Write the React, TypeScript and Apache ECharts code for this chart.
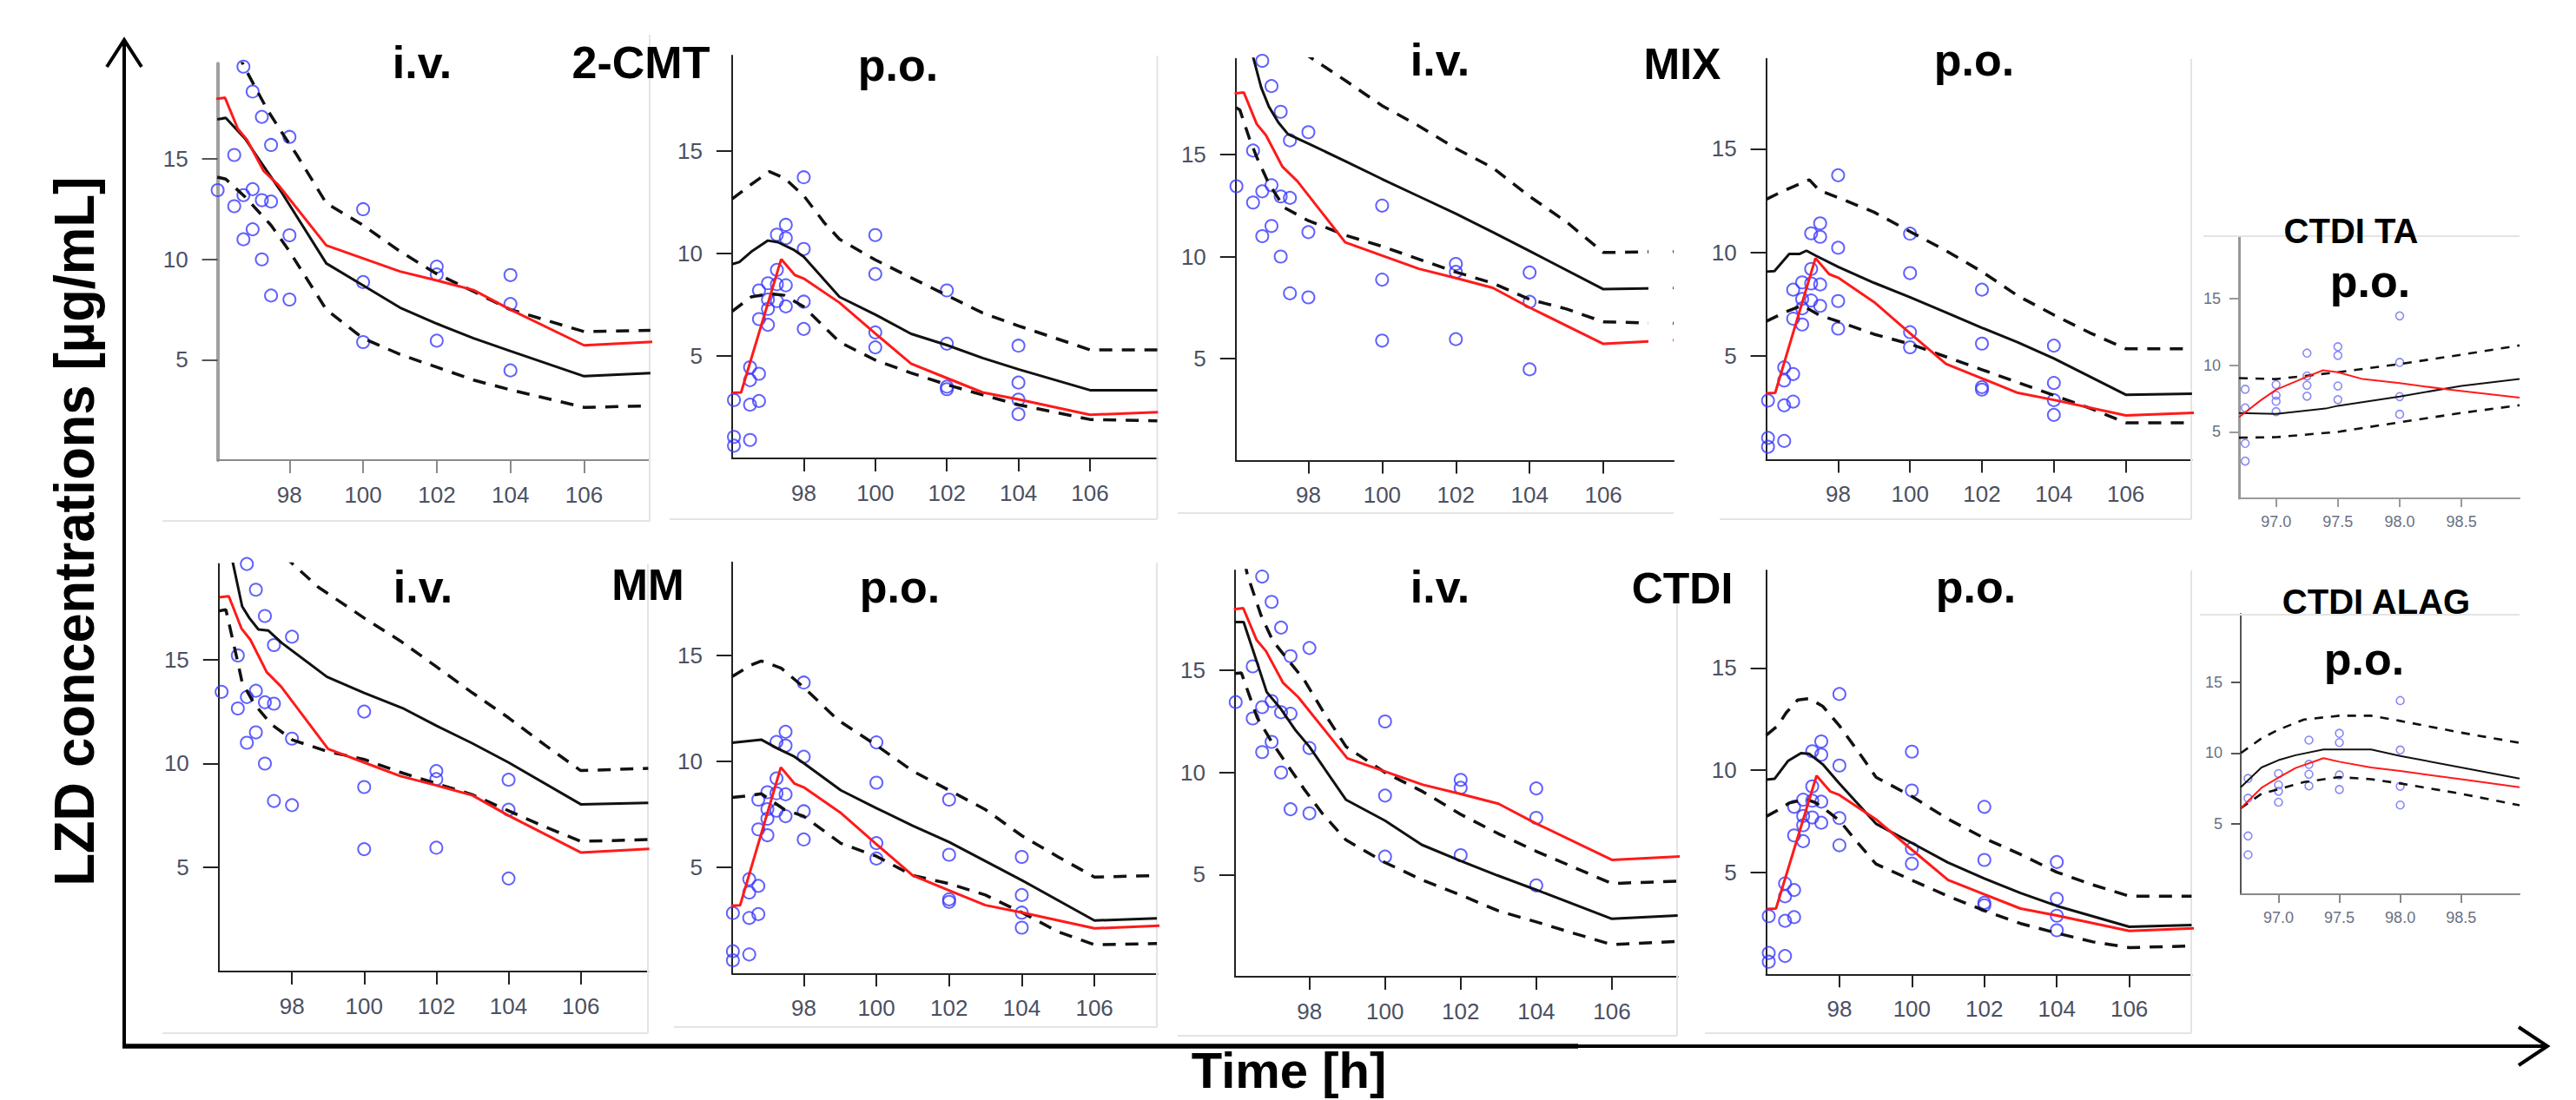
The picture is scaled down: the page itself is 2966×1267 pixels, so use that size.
import React, { useEffect, useRef } from "react";
import * as echarts from "echarts";

// ---------------- DATA ----------------
const mainXTicks = [98, 100, 102, 104, 106];
const mainYTicks = [5, 10, 15];
const insetXTicks = [97, 97.5, 98, 98.5];
const insetYTicks = [5, 10, 15];

const ivObserved = [
  [96.05, 13.45], [96.5, 15.2], [96.5, 12.65], [96.75, 19.6], [96.75, 13.2], [96.75, 11.0],
  [97.0, 18.36], [97.0, 13.5], [97.0, 11.5], [97.25, 17.1], [97.25, 12.95], [97.25, 10.0],
  [97.5, 15.7], [97.5, 12.88], [97.5, 8.2], [98.0, 16.1], [98.0, 11.2], [98.0, 8.0],
  [100, 12.5], [100, 8.87], [100, 5.88], [102, 9.64], [102, 9.25], [102, 5.95],
  [104, 9.22], [104, 7.78], [104, 4.47],
];
const poObserved = [
  [96.05, 2.85], [96.05, 1.05], [96.05, 0.62],
  [96.5, 4.45], [96.5, 3.82], [96.5, 2.62], [96.5, 0.9],
  [96.75, 8.2], [96.75, 6.8], [96.75, 4.13], [96.75, 2.8],
  [97.0, 8.55], [97.0, 7.75], [97.0, 7.3], [97.0, 6.52],
  [97.25, 10.92], [97.25, 9.2], [97.25, 8.5], [97.25, 7.68],
  [97.5, 11.4], [97.5, 10.75], [97.5, 8.45], [97.5, 7.42],
  [98, 13.72], [98, 10.22], [98, 7.65], [98, 6.32],
  [100, 10.9], [100, 9.0], [100, 6.15], [100, 5.42],
  [102, 8.2], [102, 5.6], [102, 3.5], [102, 3.38],
  [104, 5.5], [104, 3.7], [104, 2.87], [104, 2.16],
];
const ivReference = [
  [96.0, 18.0], [96.25, 18.05], [96.6, 16.5], [96.85, 15.95], [97.3, 14.4], [97.7, 13.7],
  [99.0, 10.7], [100, 10.05], [101, 9.4], [102, 8.95], [103, 8.47], [104, 7.5], [106, 5.72], [107.9, 5.9],
];
const poReference = [
  [96.0, 3.2], [96.25, 3.22], [97.37, 9.72], [97.75, 8.95], [98, 8.78], [99, 7.6], [100, 6.1],
  [101, 4.62], [102, 3.92], [103, 3.22], [104, 2.88], [106, 2.13], [107.9, 2.26],
];

const cmtIvMedian = [[96.04, 16.97], [96.27, 17.05], [96.8, 16.0], [97.2, 14.9], [97.8, 13.3], [99, 9.8], [100, 8.7], [101, 7.6], [102, 6.8], [103, 6.07], [104, 5.43], [106, 4.18], [107.8, 4.34]];
const cmtIvUpper = [[96.04, 22.3], [96.8, 19.5], [97.4, 17.45], [97.8, 16.3], [98.2, 15.2], [99, 12.8], [100, 11.7], [101, 10.4], [102, 9.28], [103, 8.4], [104, 7.5], [106, 6.4], [107.8, 6.47]];
const cmtIvLower = [[96.04, 14.1], [96.27, 14.0], [96.8, 13.1], [97.5, 11.7], [98, 10.4], [99, 7.5], [100, 6.07], [101, 5.27], [102, 4.63], [103, 3.99], [104, 3.5], [106, 2.63], [107.8, 2.7]];

const cmtPoMedian = [[96.0, 9.48], [96.2, 9.58], [96.53, 10.08], [97.0, 10.63], [97.28, 10.55], [97.74, 10.16], [98, 9.84], [99, 7.88], [100, 7.02], [101, 6.08], [102, 5.53], [103, 4.9], [104, 4.35], [106, 3.33], [107.88, 3.33]];
const cmtPoUpper = [[96.0, 12.66], [96.53, 13.37], [97.04, 14.0], [97.46, 13.68], [98, 12.82], [98.58, 11.49], [99, 10.7], [100, 9.69], [101, 8.82], [102, 7.96], [103, 7.1], [104, 6.47], [106, 5.3], [107.88, 5.3]];
const cmtPoLower = [[96.0, 7.18], [96.53, 7.88], [97.04, 8.04], [97.46, 7.96], [98, 7.4], [99, 5.68], [100, 4.8], [101, 4.17], [102, 3.6], [103, 3.1], [104, 2.62], [106, 1.9], [107.88, 1.83]];

const mixIvMedian = [[96.04, 24], [96.3, 21.5], [96.5, 19.8], [96.72, 18.3], [96.93, 17.35], [97.19, 16.57], [97.45, 16.0], [98, 15.54], [99, 14.68], [100, 13.8], [101, 12.95], [102, 12.1], [103, 11.2], [104, 10.27], [106, 8.4], [107.9, 8.46]];
const mixIvUpper = [[96.04, 23], [97, 21.2], [98.03, 19.8], [99.03, 18.6], [100, 17.4], [101, 16.4], [102, 15.3], [103, 14.36], [104, 12.95], [105, 11.7], [106, 10.2], [107.9, 10.25]];
const mixIvLower = [[96.04, 17.3], [96.14, 17.2], [96.4, 15.8], [96.61, 14.83], [96.93, 13.57], [97.35, 12.4], [98, 11.76], [99, 11.05], [100, 10.5], [101, 9.87], [102, 9.24], [103, 8.7], [104, 7.9], [105, 7.43], [106, 6.8], [107.9, 6.72]];

const mixPoMedian = [[96.0, 9.07], [96.23, 9.1], [96.64, 9.92], [96.92, 9.92], [97.12, 10.08], [97.38, 9.84], [98, 9.3], [99, 8.53], [100, 7.83], [101, 7.1], [102, 6.36], [103, 5.66], [104, 4.88], [106, 3.13], [107.84, 3.18]];
const mixPoUpper = [[96.0, 12.56], [96.55, 13.02], [97.2, 13.5], [97.47, 13.0], [98, 12.64], [99, 11.94], [100, 11.0], [101, 10.08], [102, 9.07], [103, 7.9], [104, 6.98], [105, 6.12], [106, 5.35], [107.84, 5.35]];
const mixPoLower = [[96.0, 6.67], [96.55, 7.13], [97.0, 7.44], [97.47, 6.98], [98, 6.67], [99, 6.05], [100, 5.58], [101, 4.96], [102, 4.34], [103, 3.72], [104, 3.1], [105, 2.48], [106, 1.78], [107.84, 1.78]];

const mmIvMedian = [[95.97, 22.6], [96.37, 19.6], [96.62, 17.56], [96.82, 17.0], [97.07, 16.45], [97.34, 16.4], [97.72, 15.8], [98.97, 14.17], [100, 13.4], [101.06, 12.67], [102, 11.82], [103, 10.97], [104, 10.05], [106, 8.04], [107.87, 8.11]];
const mmIvUpper = [[95.97, 23.0], [97.0, 21.3], [98.02, 19.6], [98.72, 18.5], [100, 17.0], [101, 15.9], [102, 14.66], [103, 13.4], [104, 12.2], [105, 10.9], [106, 9.66], [107.87, 9.77]];
const mmIvLower = [[95.97, 17.34], [96.17, 17.4], [96.47, 15.1], [96.62, 13.9], [96.97, 12.83], [97.42, 11.9], [98.02, 11.13], [98.97, 10.59], [100, 10.2], [101, 9.58], [102, 9.04], [103, 8.5], [104, 7.73], [105, 6.96], [106, 6.26], [107.87, 6.34]];

const mmPoMedian = [[96.03, 10.88], [96.83, 11.03], [97.29, 10.6], [97.74, 10.23], [98, 9.92], [99.02, 8.64], [100, 7.8], [101, 6.97], [102, 6.2], [103, 5.3], [104, 4.4], [106, 2.5], [107.72, 2.6]];
const mmPoUpper = [[96.03, 14.0], [96.55, 14.55], [96.83, 14.74], [97.38, 14.4], [98, 13.5], [98.93, 11.97], [100, 10.76], [101, 9.55], [102, 8.64], [103, 7.73], [104, 6.5], [105, 5.5], [106, 4.55], [107.72, 4.62]];
const mmPoLower = [[96.03, 8.3], [96.55, 8.4], [96.83, 8.48], [97.47, 7.73], [98, 7.42], [99.02, 6.14], [100, 5.53], [101, 4.62], [102, 4.24], [103, 3.7], [104, 2.88], [105, 1.97], [106, 1.36], [107.72, 1.41]];

const ctdiIvMedian = [[96.03, 17.37], [96.26, 17.37], [96.51, 15.98], [96.87, 13.94], [97.23, 13.15], [97.64, 12.05], [98, 11.26], [98.97, 8.66], [100, 7.64], [100.97, 6.46], [102, 5.67], [102.97, 4.96], [104, 4.25], [106, 2.83], [107.74, 2.99]];
const ctdiIvUpper = [[96.03, 22.5], [96.36, 19.68], [96.72, 17.7], [97.03, 16.46], [97.44, 15.5], [97.85, 14.57], [98.36, 13.0], [98.97, 11.26], [100, 10.0], [101, 9.06], [102, 7.95], [103, 7.0], [104, 6.14], [105, 5.35], [106, 4.56], [107.74, 4.68]];
const ctdiIvLower = [[96.03, 14.85], [96.2, 14.88], [96.41, 13.78], [96.62, 12.68], [97.03, 11.42], [97.44, 10.31], [97.85, 9.21], [98.36, 7.95], [98.97, 6.69], [100, 5.59], [101, 4.72], [102, 4.0], [103, 3.22], [104, 2.68], [105, 2.12], [106, 1.57], [107.74, 1.73]];

const ctdiPoMedian = [[95.98, 9.53], [96.21, 9.57], [96.58, 10.44], [96.94, 10.83], [97.17, 10.79], [97.54, 10.28], [98, 9.34], [99.01, 7.37], [100, 6.43], [100.99, 5.48], [102, 4.69], [103, 3.98], [104, 3.35], [106, 2.33], [107.72, 2.41]];
const ctdiPoUpper = [[95.98, 11.7], [96.3, 12.17], [96.53, 12.8], [96.85, 13.43], [97.17, 13.5], [97.54, 13.12], [98, 12.17], [98.64, 10.6], [99.01, 9.65], [100, 8.71], [101, 7.6], [102, 6.66], [103, 5.87], [104, 5.0], [105, 4.38], [106, 3.83], [107.72, 3.83]];
const ctdiPoLower = [[95.98, 7.73], [96.35, 8.08], [96.62, 8.39], [97.08, 8.58], [97.36, 8.39], [97.72, 7.92], [98, 7.53], [98.55, 6.35], [99.01, 5.4], [100, 4.61], [101, 3.83], [102, 3.12], [103, 2.49], [104, 2.02], [105, 1.59], [106, 1.31], [107.72, 1.39]];

const taReference = [[96.7, 6.1], [96.88, 7.4], [97.0, 8.17], [97.25, 9.15], [97.38, 9.63], [97.5, 9.48], [97.7, 8.97], [98.0, 8.67], [98.4, 8.17], [98.97, 7.58]];
const taMedian = [[96.7, 6.42], [97.0, 6.35], [97.4, 6.75], [97.5, 6.96], [98.0, 7.66], [98.5, 8.45], [98.97, 8.97]];
const taUpper = [[96.7, 9.04], [97.0, 8.97], [97.5, 9.48], [98.0, 10.1], [98.5, 10.8], [98.97, 11.5]];
const taLower = [[96.7, 4.56], [97.0, 4.6], [97.5, 5.0], [98.0, 5.72], [98.5, 6.42], [98.97, 7.0]];

const alagReference = [[96.69, 6.09], [96.86, 7.54], [97.0, 8.26], [97.14, 8.94], [97.37, 9.64], [97.5, 9.39], [97.76, 8.98], [98.0, 8.73], [98.5, 8.15], [98.98, 7.58]];
const alagMedian = [[96.69, 7.58], [96.86, 8.98], [97.0, 9.5], [97.14, 9.85], [97.37, 10.26], [97.5, 10.26], [97.76, 10.26], [98.0, 9.8], [98.5, 8.98], [98.98, 8.2]];
const alagUpper = [[96.69, 10.0], [96.86, 11.04], [97.0, 11.66], [97.21, 12.38], [97.5, 12.65], [97.76, 12.65], [98.0, 12.28], [98.5, 11.45], [98.98, 10.73]];
const alagLower = [[96.69, 6.09], [96.86, 7.12], [97.0, 7.43], [97.21, 7.95], [97.5, 8.3], [97.76, 8.15], [98.0, 7.85], [98.5, 7.12], [98.98, 6.3]];

// ---------------- LAYOUT ----------------
const W = 2966;
const H = 1267;
const FONT = "'Liberation Sans', Arial, sans-serif";

type Panel = {
  L: number; R: number; T: number; B: number;
  x: [number, number]; y: [number, number];
  inset: boolean;
  obs: number[][]; ref: number[][]; med: number[][]; up: number[][]; lo: number[][];
  axisColor: string; yAxisColor: string; yAxisWidth: number;
};

const panels: Panel[] = [
  { L: 250.6, R: 748, T: 73.3, B: 530, x: [96.05, 107.78], y: [0, 19.75], inset: false, obs: ivObserved, ref: ivReference, med: cmtIvMedian, up: cmtIvUpper, lo: cmtIvLower, axisColor: "#8a8a8a", yAxisColor: "#a0a0a0", yAxisWidth: 4 },
  { L: 843, R: 1332.5, T: 64, B: 528, x: [96.0, 107.88], y: [0, 19.66], inset: false, obs: poObserved, ref: poReference, med: cmtPoMedian, up: cmtPoUpper, lo: cmtPoLower, axisColor: "#222", yAxisColor: "#222", yAxisWidth: 2 },
  { L: 1422.8, R: 1927.2, T: 67.7, B: 530.4, x: [96.03, 107.91], y: [0, 19.7], inset: false, obs: ivObserved, ref: ivReference, med: mixIvMedian, up: mixIvUpper, lo: mixIvLower, axisColor: "#222", yAxisColor: "#222", yAxisWidth: 2 },
  { L: 2033.6, R: 2523.4, T: 67.7, B: 529.4, x: [96.0, 107.83], y: [0, 19.34], inset: false, obs: poObserved, ref: poReference, med: mixPoMedian, up: mixPoUpper, lo: mixPoLower, axisColor: "#222", yAxisColor: "#222", yAxisWidth: 2 },
  { L: 2578, R: 2901, T: 273, B: 574, x: [96.7, 98.97], y: [0, 19.65], inset: true, obs: poObserved, ref: taReference, med: taMedian, up: taUpper, lo: taLower, axisColor: "#9a9a9a", yAxisColor: "#999", yAxisWidth: 3 },
  { L: 251.8, R: 746.4, T: 649.6, B: 1118.9, x: [95.97, 107.87], y: [0, 19.6], inset: false, obs: ivObserved, ref: ivReference, med: mmIvMedian, up: mmIvUpper, lo: mmIvLower, axisColor: "#222", yAxisColor: "#222", yAxisWidth: 2 },
  { L: 843, R: 1332.5, T: 647.7, B: 1121.3, x: [96.03, 107.73], y: [0, 19.39], inset: false, obs: poObserved, ref: poReference, med: mmPoMedian, up: mmPoUpper, lo: mmPoLower, axisColor: "#222", yAxisColor: "#222", yAxisWidth: 2 },
  { L: 1421.9, R: 1931.7, T: 657, B: 1124.9, x: [96.03, 107.74], y: [0, 19.9], inset: false, obs: ivObserved, ref: ivReference, med: ctdiIvMedian, up: ctdiIvUpper, lo: ctdiIvLower, axisColor: "#222", yAxisColor: "#222", yAxisWidth: 2 },
  { L: 2033.6, R: 2523.4, T: 657, B: 1122.3, x: [95.98, 107.72], y: [0, 19.77], inset: false, obs: poObserved, ref: poReference, med: ctdiPoMedian, up: ctdiPoUpper, lo: ctdiPoLower, axisColor: "#222", yAxisColor: "#222", yAxisWidth: 2 },
  { L: 2580, R: 2901, T: 707, B: 1030, x: [96.69, 98.98], y: [0, 19.87], inset: true, obs: poObserved, ref: alagReference, med: alagMedian, up: alagUpper, lo: alagLower, axisColor: "#888", yAxisColor: "#555", yAxisWidth: 2 },
];

// titles: [text, centerX, middleY, fontSize]
const titles: [string, number, number, number][] = [
  ["i.v.", 486, 72, 52], ["2-CMT", 738, 72, 52],
  ["p.o.", 1034, 75, 52],
  ["i.v.", 1658, 69, 52], ["MIX", 1937, 74, 50],
  ["p.o.", 2273, 69, 52],
  ["CTDI TA", 2707, 266, 40], ["p.o.", 2729, 324, 52],
  ["i.v.", 487, 676, 52], ["MM", 746, 674, 50],
  ["p.o.", 1036, 676, 52],
  ["i.v.", 1658, 676, 52], ["CTDI", 1937, 678, 50],
  ["p.o.", 2275, 676, 52],
  ["CTDI ALAG", 2736, 693, 40], ["p.o.", 2722, 759, 52],
];

const yAxisTitle = "LZD concentrations [µg/mL]";
const xAxisTitle = "Time [h]";

// faint frames of the pasted sub-images: [x1,y1,x2,y2]
const frames: number[][] = [
  [748, 40, 748, 600], [187, 600, 748, 600],
  [1332.5, 64, 1332.5, 598], [771, 598, 1332.5, 598],
  [1356, 591, 1927, 591],
  [2523, 68, 2523, 598], [1980, 598, 2523, 598],
  [2537, 272, 2901, 272],
  [746, 650, 746, 1190], [187, 1190, 746, 1190],
  [1332, 648, 1332, 1183], [776, 1183, 1332, 1183],
  [1931, 660, 1931, 1193], [1356, 1193, 1931, 1193],
  [2523, 657, 2523, 1190], [1963, 1190, 2523, 1190],
  [2533, 708, 2901, 708],
];

function buildOption() {
  const grid: any[] = [];
  const xAxis: any[] = [];
  const yAxis: any[] = [];
  const series: any[] = [];

  panels.forEach((p, i) => {
    grid.push({ left: p.L, top: p.T, width: p.R - p.L, height: p.B - p.T, containLabel: false });
    const lab = p.inset
      ? { fontSize: 18, color: "#6a7082", fontFamily: FONT }
      : { fontSize: 26, color: "#4b5062", fontFamily: FONT };
    xAxis.push({
      gridIndex: i, type: "value", min: p.x[0], max: p.x[1],
      axisLine: { show: true, onZero: false, lineStyle: { color: p.axisColor, width: 2 } },
      axisTick: { show: true, length: p.inset ? 10 : 15, customValues: p.inset ? insetXTicks : mainXTicks, lineStyle: { color: p.axisColor, width: 2 } },
      axisLabel: {
        ...lab, margin: p.inset ? 18 : 27,
        customValues: p.inset ? insetXTicks : mainXTicks,
        formatter: (v: number) => (p.inset ? v.toFixed(1) : String(v)),
      },
      splitLine: { show: false },
    });
    yAxis.push({
      gridIndex: i, type: "value", min: p.y[0], max: p.y[1],
      axisLine: { show: true, onZero: false, lineStyle: { color: p.yAxisColor, width: p.yAxisWidth } },
      axisTick: { show: true, length: p.inset ? 11 : 18, customValues: p.inset ? insetYTicks : mainYTicks, lineStyle: { color: p.yAxisColor === "#a0a0a0" ? "#555" : p.yAxisColor, width: 2 } },
      axisLabel: { ...lab, margin: p.inset ? 21 : 34, customValues: p.inset ? insetYTicks : mainYTicks },
      splitLine: { show: false },
    });
    const lw = p.inset ? 2 : 3;
    const dash = p.inset ? [10, 9] : [15, 11];
    series.push({
      type: "scatter", xAxisIndex: i, yAxisIndex: i, data: p.obs, clip: true, silent: true,
      symbol: "circle", symbolSize: p.inset ? 9 : 14,
      itemStyle: { color: "rgba(0,0,0,0)", borderColor: p.inset ? "#6c6cf2" : "#3a3aff", borderWidth: p.inset ? 1.6 : 2 },
    });
    const line = (data: number[][], color: string, width: number, type: any) => ({
      type: "line", xAxisIndex: i, yAxisIndex: i, data, showSymbol: false, symbol: "none",
      clip: true, silent: true, lineStyle: { color, width, type },
    });
    series.push(line(p.up, "#111", p.inset ? 2.6 : 3.5, dash));
    series.push(line(p.lo, "#111", p.inset ? 2.6 : 3.5, dash));
    series.push(line(p.med, "#111", lw, "solid"));
    series.push(line(p.ref, "#ff1a1a", lw, "solid"));
  });

  const graphic: any[] = [];
  frames.forEach((f) => {
    graphic.push({ type: "line", z: 1, silent: true, shape: { x1: f[0], y1: f[1], x2: f[2], y2: f[3] }, style: { stroke: "#e4e4e4", lineWidth: 2 } });
  });
  // white strip where the next sub-image overlaps the MIX i.v. panel
  graphic.push({ type: "rect", z: 100, silent: true, shape: { x: 1898, y: 55, width: 28, height: 472 }, style: { fill: "#fff" } });
  titles.forEach(([t, x, y, fs]) => {
    graphic.push({
      type: "text", z: 101, silent: true, x, y,
      style: { text: t, fontSize: fs, fontWeight: "bold", fontFamily: FONT, fill: "#000", align: "center", verticalAlign: "middle" },
    });
  });
  // big axes with arrows
  graphic.push({ type: "line", z: 102, silent: true, shape: { x1: 143, y1: 1205, x2: 143, y2: 47 }, style: { stroke: "#000", lineWidth: 4 } });
  graphic.push({ type: "polyline", z: 102, silent: true, shape: { points: [[123, 77], [143, 46], [163, 77]] }, style: { stroke: "#000", lineWidth: 4, fill: "none" } });
  graphic.push({ type: "line", z: 102, silent: true, shape: { x1: 141, y1: 1205, x2: 1817, y2: 1205 }, style: { stroke: "#000", lineWidth: 5.5 } });
  graphic.push({ type: "line", z: 102, silent: true, shape: { x1: 1817, y1: 1205, x2: 2931, y2: 1205 }, style: { stroke: "#000", lineWidth: 4 } });
  graphic.push({ type: "polyline", z: 102, silent: true, shape: { points: [[2900, 1183], [2933, 1205], [2900, 1227]] }, style: { stroke: "#000", lineWidth: 4, fill: "none" } });
  graphic.push({
    type: "text", z: 102, silent: true, x: 86, y: 612, rotation: Math.PI / 2, scaleX: 0.96,
    style: { text: yAxisTitle, fontSize: 64, fontWeight: "bold", fontFamily: FONT, fill: "#000", align: "center", verticalAlign: "middle" },
  });
  graphic.push({
    type: "text", z: 102, silent: true, x: 1484, y: 1232,
    style: { text: xAxisTitle, fontSize: 58, fontWeight: "bold", fontFamily: FONT, fill: "#000", align: "center", verticalAlign: "middle" },
  });

  return { animation: false, backgroundColor: "#fff", grid, xAxis, yAxis, series, graphic };
}

export default function App() {
  const ref = useRef<HTMLDivElement>(null);
  useEffect(() => {
    if (!ref.current) return;
    const chart = echarts.init(ref.current, null, { renderer: "svg", width: W, height: H });
    chart.setOption(buildOption());
    return () => chart.dispose();
  }, []);
  return (
    <div style={{ position: "fixed", left: 0, top: 0, width: W, height: H, background: "#fff" }}>
      <div ref={ref} style={{ width: W, height: H }} />
    </div>
  );
}
